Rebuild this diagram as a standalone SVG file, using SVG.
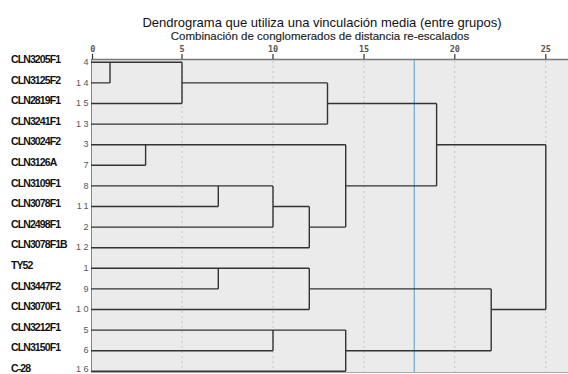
<svg xmlns="http://www.w3.org/2000/svg" width="568" height="374" viewBox="0 0 568 374">
<style>
.title{font-family:"Liberation Sans",Arial,sans-serif;font-size:13px;fill:#111;text-anchor:middle}
.sub{font-family:"Liberation Sans",Arial,sans-serif;font-size:11.5px;fill:#222;text-anchor:middle;stroke:#222;stroke-width:0.15}
.tick{font-family:"DejaVu Sans Mono","Liberation Mono",monospace;font-size:8.5px;fill:#555;text-anchor:middle;font-weight:bold}
.lab{font-family:"Liberation Sans",Arial,sans-serif;font-size:10.5px;font-weight:bold;fill:#111;letter-spacing:-0.9px}
.num{font-family:"Liberation Sans",Arial,sans-serif;font-size:9px;fill:#555;text-anchor:end;letter-spacing:2.5px}
.grid{stroke:#c4c4c4;stroke-width:1;stroke-dasharray:2,3}
.ln{fill:none;stroke:#333;stroke-width:1.4}
</style>
<rect width="568" height="374" fill="#fff"/>
<text class="title" x="322" y="27">Dendrograma que utiliza una vinculación media (entre grupos)</text>
<text class="sub" x="320" y="39.5">Combinación de conglomerados de distancia re-escalados</text>
<g id="plot">
<rect x="91" y="60" width="477" height="312" fill="#ebebeb"/>
<line class="grid" x1="182" y1="61" x2="182" y2="372"/>
<line class="grid" x1="273" y1="61" x2="273" y2="372"/>
<line class="grid" x1="364" y1="61" x2="364" y2="372"/>
<line class="grid" x1="454.8" y1="61" x2="454.8" y2="372"/>
<line class="grid" x1="545.8" y1="61" x2="545.8" y2="372"/>
<line x1="91" y1="59.5" x2="568" y2="59.5" stroke="#777" stroke-width="1.6"/>
<line x1="91.5" y1="59.5" x2="91.5" y2="372" stroke="#888" stroke-width="1"/>
<line x1="91" y1="372.5" x2="568" y2="372.5" stroke="#aaa" stroke-width="1"/>
</g>
<g id="axis">
<g stroke="#333" stroke-width="1.2">
<line x1="92.5" y1="54" x2="92.5" y2="59"/>
<line x1="182" y1="54" x2="182" y2="59"/>
<line x1="273" y1="54" x2="273" y2="59"/>
<line x1="364" y1="54" x2="364" y2="59"/>
<line x1="454.8" y1="54" x2="454.8" y2="59"/>
<line x1="545.8" y1="54" x2="545.8" y2="59"/>
</g>
<text class="tick" x="92.7" y="52">0</text>
<text class="tick" x="182" y="52">5</text>
<text class="tick" x="273" y="52">10</text>
<text class="tick" x="364" y="52">15</text>
<text class="tick" x="454.8" y="52">20</text>
<text class="tick" x="545.8" y="52">25</text>
</g>
<line id="cutline" x1="414.3" y1="60" x2="414.3" y2="372" stroke="#7aaed6" stroke-width="1.3"/>
<g id="connectors" class="ln">
<path d="M91,62.3H182M91,82.9H110M110,62.3V82.9M91,103.5H182M182,62.3V103.5M182,82.9H327.5M91,124.1H327.5M327.5,82.9V124.1M327.5,103.5H436.6M436.6,103.5V185.9"/>
<path d="M91,144.7H345.7M91,165.3H145.6M145.6,144.7V165.3M91,185.9H273M91,206.5H218.3M218.3,185.9V206.5M273,185.9V227.1M91,227.1H273M273,206.5H309.3M309.3,206.5V247.7M91,247.7H309.3M309.3,227.1H345.7M345.7,144.7V227.1M345.7,185.9H436.6M436.6,144.7H545.8M545.8,144.7V309.5"/>
<path d="M91,268.3H309.3M91,288.9H218.3M218.3,268.3V288.9M309.3,268.3V309.5M91,309.5H309.3M309.3,288.9H491.2M91,330.1H345.7M91,350.7H273M273,330.1V350.7M345.7,330.1V371.3M91,371.3H345.7M345.7,350.7H491.2M491.2,288.9V350.7M491.2,309.5H545.8"/>
</g>
<g id="n4"><text class="lab" x="11" y="63">CLN3205F1</text><text class="num" x="91" y="65">4</text></g>
<g id="n14"><text class="lab" x="11" y="83.6">CLN3125F2</text><text class="num" x="91" y="85.6">14</text></g>
<g id="n15"><text class="lab" x="11" y="104.2">CLN2819F1</text><text class="num" x="91" y="106.2">15</text></g>
<g id="n13"><text class="lab" x="11" y="124.8">CLN3241F1</text><text class="num" x="91" y="126.8">13</text></g>
<g id="n3"><text class="lab" x="11" y="145.4">CLN3024F2</text><text class="num" x="91" y="147.4">3</text></g>
<g id="n7"><text class="lab" x="11" y="166">CLN3126A</text><text class="num" x="91" y="168">7</text></g>
<g id="n8"><text class="lab" x="11" y="186.6">CLN3109F1</text><text class="num" x="91" y="188.6">8</text></g>
<g id="n11"><text class="lab" x="11" y="207.2">CLN3078F1</text><text class="num" x="91" y="209.2">11</text></g>
<g id="n2"><text class="lab" x="11" y="227.8">CLN2498F1</text><text class="num" x="91" y="229.8">2</text></g>
<g id="n12"><text class="lab" x="11" y="248.4">CLN3078F1B</text><text class="num" x="91" y="250.4">12</text></g>
<g id="n1"><text class="lab" x="11" y="269">TY52</text><text class="num" x="91" y="271">1</text></g>
<g id="n9"><text class="lab" x="11" y="289.6">CLN3447F2</text><text class="num" x="91" y="291.6">9</text></g>
<g id="n10"><text class="lab" x="11" y="310.2">CLN3070F1</text><text class="num" x="91" y="312.2">10</text></g>
<g id="n5"><text class="lab" x="11" y="330.8">CLN3212F1</text><text class="num" x="91" y="332.8">5</text></g>
<g id="n6"><text class="lab" x="11" y="351.4">CLN3150F1</text><text class="num" x="91" y="353.4">6</text></g>
<g id="n16"><text class="lab" x="11" y="372">C-28</text><text class="num" x="91" y="372.3">16</text></g>
</svg>
